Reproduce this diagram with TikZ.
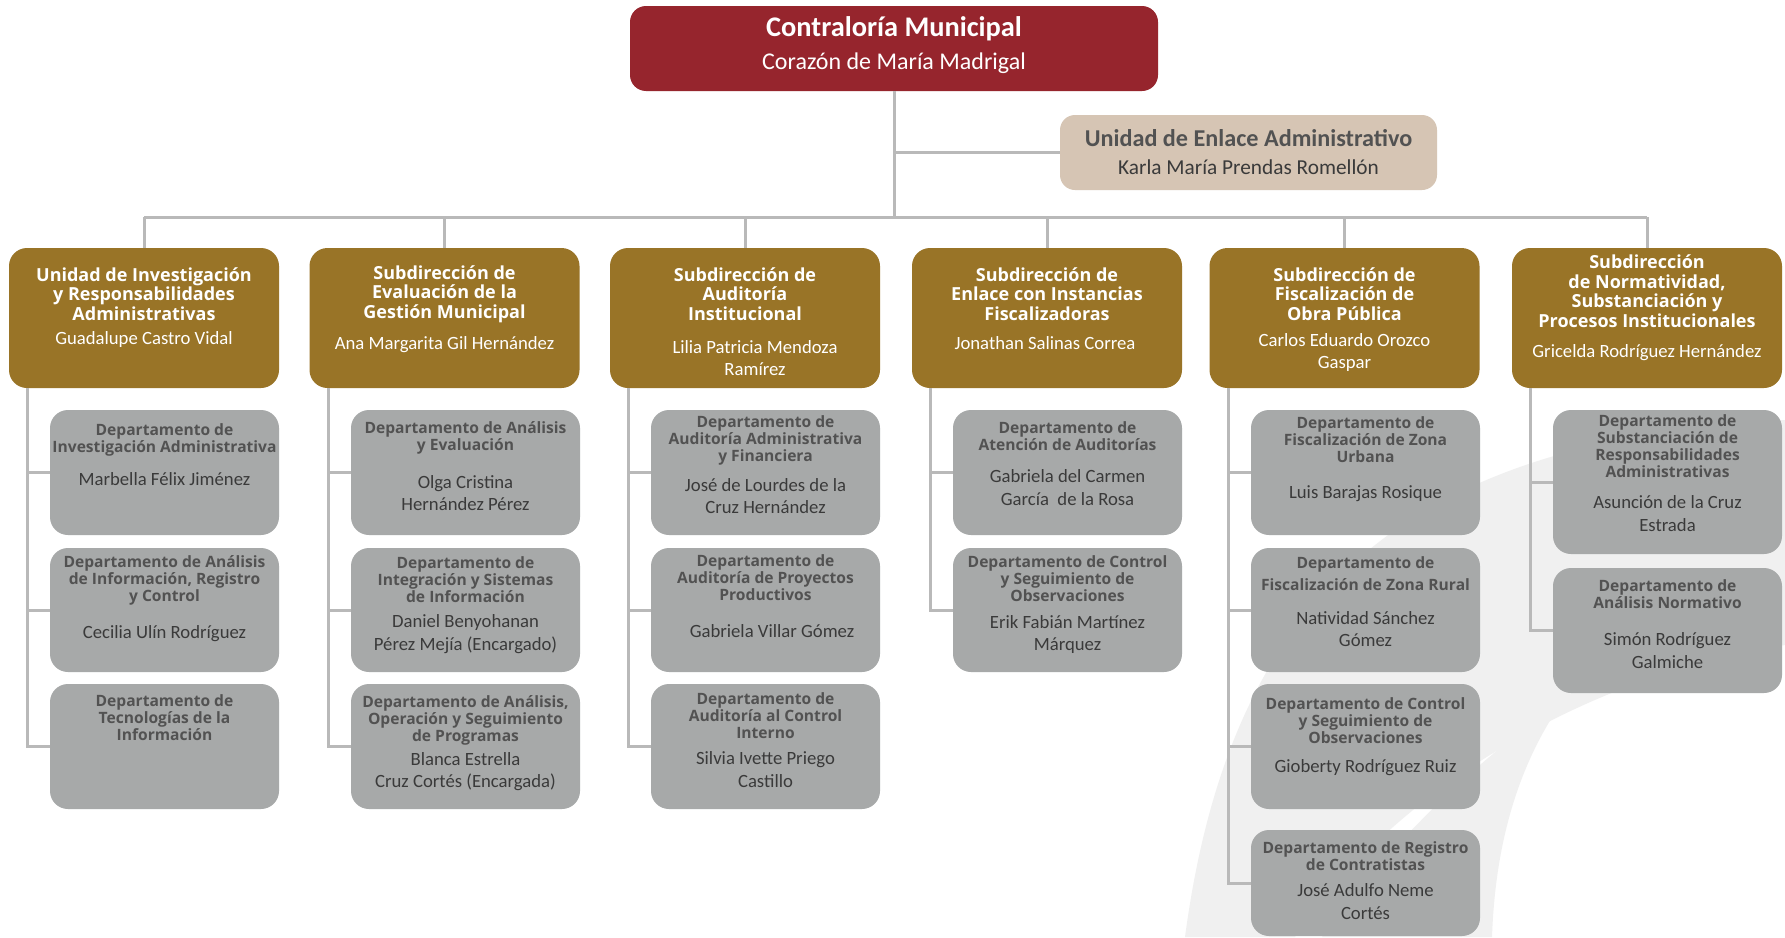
\documentclass[tikz,border=0pt]{standalone}
\usepackage{fontspec}
\setmainfont{Carlito}
\newfontfamily\hfont{Open Sans}
\definecolor{redc}{RGB}{150,37,45}
\definecolor{goldc}{RGB}{153,116,39}
\definecolor{beigec}{RGB}{214,197,180}
\definecolor{grayc}{RGB}{167,169,169}
\definecolor{dtitlec}{RGB}{82,82,82}
\definecolor{dnamec}{RGB}{58,58,58}
\definecolor{linec}{RGB}{185,185,185}
\definecolor{wmc}{RGB}{240,240,240}
\begin{document}
\begin{tikzpicture}[x=1pt,y=-1pt,
  conn/.style={draw=linec, line width=3pt},
  topbox/.style={fill=redc, rounded corners=16pt, minimum width=528pt, minimum height=85pt, inner sep=0pt},
  enlbox/.style={fill=beigec, rounded corners=15pt, minimum width=377pt, minimum height=75pt, inner sep=0pt},
  goldbox/.style={fill=goldc, rounded corners=18pt, minimum width=270pt, minimum height=140pt, inner sep=0pt},
  deptbox/.style={fill=grayc, rounded corners=18pt, minimum width=229pt, inner sep=0pt},
  gtitle/.style={text=white, font=\hfont\bfseries\fontsize{18}{19.5}\selectfont, align=center, inner sep=0pt},
  gname/.style={text=white, font=\fontsize{18.7}{22}\selectfont, align=center, inner sep=0pt},
  dtitle/.style={text=dtitlec, font=\hfont\bfseries\fontsize{15.6}{17}\selectfont, align=center, inner sep=0pt},
  dname/.style={text=dnamec, font=\fontsize{18.7}{22.5}\selectfont, align=center, inner sep=0pt}]
\useasboundingbox (0,0) rectangle (1785,937);
\fill[white] (0,0) rectangle (1785,937);
% watermark
\fill[wmc] (1185,937) .. controls (1230,600) and (1400,440) .. (1785,420) -- (1785,645) .. controls (1560,680) and (1380,810) .. (1295,937) -- cycle;
\fill[wmc] (1322,937) .. controls (1392,840) and (1486,752) .. (1562,702) .. controls (1515,770) and (1495,850) .. (1492,937) -- cycle;

% top
\node[topbox] (top) at (894,48.5) {};
\node[text=white, font=\bfseries\fontsize{28.4}{31}\selectfont, inner sep=0pt] (toptitle) at (894,29) {Contraloría Municipal};
\node[text=white, font=\fontsize{24}{27}\selectfont, inner sep=0pt] (topname) at (894,63) {Corazón de María Madrigal};
\node[enlbox] (enl) at (1248.5,152.5) {};
\node[text=dtitlec, font=\bfseries\fontsize{24.2}{27}\selectfont, inner sep=0pt] (enltitle) at (1248.5,138) {Unidad de Enlace Administrativo};
\node[text=dnamec, font=\fontsize{21.3}{25}\selectfont, inner sep=0pt] (enlname) at (1248.5,167) {Karla María Prendas Romellón};

% gold boxes
\node[goldbox] (g1) at (144,318) {};
\node[goldbox] (g2) at (444.5,318) {};
\node[goldbox] (g3) at (745,318) {};
\node[goldbox] (g4) at (1047,318) {};
\node[goldbox] (g5) at (1344.5,318) {};
\node[goldbox] (g6) at (1647,318) {};
\node[gtitle] (gt1) at (144,294) {Unidad de Investigación\\y Responsabilidades\\Administrativas};
\node[gname] (gn1) at (144,340) {Guadalupe Castro Vidal};
\node[gtitle] (gt2) at (444.5,294) {Subdirección de\\Evaluación de la\\Gestión Municipal};
\node[gname] (gn2) at (444.5,345) {Ana Margarita Gil Hernández};
\node[gtitle] (gt3) at (745,294) {Subdirección de\\Auditoría\\Institucional};
\node[gname] (gn3) at (755,358) {Lilia Patricia Mendoza\\Ramírez};
\node[gtitle] (gt4) at (1047,294) {Subdirección de\\Enlace con Instancias\\Fiscalizadoras};
\node[gname] (gn4) at (1045,343) {Jonathan Salinas Correa};
\node[gtitle] (gt5) at (1344.5,294) {Subdirección de\\Fiscalización de\\Obra Pública};
\node[gname] (gn5) at (1344.5,352.5) {Carlos Eduardo Orozco\\Gaspar};
\node[gtitle] (gt6) at (1647,291) {Subdirección\\de Normatividad,\\Substanciación y\\Procesos Institucionales};
\node[gname] (gn6) at (1647,353) {Gricelda Rodríguez Hernández};

% column 1
\node[deptbox, minimum height=125pt] (d11) at (164.5,472.5) {};
\node[deptbox, minimum height=124pt] (d12) at (164.5,610) {};
\node[deptbox, minimum height=125pt] (d13) at (164.5,746.5) {};
\node[dtitle] (dt11) at (164.5,439.5) {Departamento de\\Investigación Administrativa};
\node[dname] (dn11) at (164.5,479) {Marbella Félix Jiménez};
\node[dtitle] (dt12) at (164.5,580.5) {Departamento de Análisis\\de Información, Registro\\y Control};
\node[dname] (dn12) at (164.5,634) {Cecilia Ulín Rodríguez};
\node[dtitle] (dt13) at (164.5,718) {Departamento de\\Tecnologías de la\\Información};

% column 2
\node[deptbox, minimum height=125pt] (d21) at (465.5,472.5) {};
\node[deptbox, minimum height=124pt] (d22) at (465.5,610) {};
\node[deptbox, minimum height=125pt] (d23) at (465.5,746.5) {};
\node[dtitle] (dt21) at (465.5,437.5) {Departamento de Análisis\\y Evaluación};
\node[dname] (dn21) at (465.5,493) {Olga Cristina\\Hernández Pérez};
\node[dtitle] (dt22) at (465.5,579.5) {Departamento de\\Integración y Sistemas\\de Información};
\node[dname] (dn22) at (465.5,634) {Daniel Benyohanan\\Pérez Mejía (Encargado)};
\node[dtitle] (dt23) at (465.5,720.5) {Departamento de Análisis,\\Operación y Seguimiento\\de Programas};
\node[dname] (dn23) at (465.5,771.5) {Blanca Estrella\\Cruz Cortés (Encargada)};

% column 3
\node[deptbox, minimum height=125pt] (d31) at (765.5,472.5) {};
\node[deptbox, minimum height=124pt] (d32) at (765.5,610) {};
\node[deptbox, minimum height=125pt] (d33) at (765.5,746.5) {};
\node[dtitle] (dt31) at (765.5,440.5) {Departamento de\\Auditoría Administrativa\\y Financiera};
\node[dname] (dn31) at (765.5,496) {José de Lourdes de la\\Cruz Hernández};
\node[dtitle] (dt32) at (765.5,578) {Departamento de\\Auditoría de Proyectos\\Productivos};
\node[dname] (dn32) at (772,631) {Gabriela Villar Gómez};
\node[dtitle] (dt33) at (765.5,716) {Departamento de\\Auditoría al Control\\Interno};
\node[dname] (dn33) at (765.5,769.5) {Silvia Ivette Priego\\Castillo};

% column 4
\node[deptbox, minimum height=125pt] (d41) at (1067.5,472.5) {};
\node[deptbox, minimum height=124pt] (d42) at (1067.5,610) {};
\node[dtitle] (dt41) at (1067.5,436.5) {Departamento de\\Atención de Auditorías};
\node[dname] (dn41) at (1067.5,487.5) {Gabriela del Carmen\\García\ \ de la Rosa};
\node[dtitle] (dt42) at (1067.5,578.5) {Departamento de Control\\y Seguimiento de\\Observaciones};
\node[dname] (dn42) at (1067.5,634.5) {Erik Fabián Martínez\\Márquez};

% column 5
\node[deptbox, minimum height=125pt] (d51) at (1365.5,472.5) {};
\node[deptbox, minimum height=124pt] (d52) at (1365.5,610) {};
\node[deptbox, minimum height=125pt] (d53) at (1365.5,746.5) {};
\node[deptbox, minimum height=106pt] (d54) at (1365.5,883) {};
\node[dtitle] (dt51) at (1365.5,440) {Departamento de\\Fiscalización de Zona\\Urbana};
\node[dname] (dn51) at (1365.5,494) {Luis Barajas Rosique};
\node[dtitle] (dt52) at (1365.5,574) {Departamento de\\[5pt]Fiscalización de Zona Rural};
\node[dname] (dn52) at (1365.5,629) {Natividad Sánchez\\Gómez};
\node[dtitle] (dt53) at (1365.5,720.5) {Departamento de Control\\y Seguimiento de\\Observaciones};
\node[dname] (dn53) at (1365.5,768) {Gioberty Rodríguez Ruiz};
\node[dtitle] (dt54) at (1365.5,856.5) {Departamento de Registro\\de Contratistas};
\node[dname] (dn54) at (1365.5,901.5) {José Adulfo Neme\\Cortés};

% column 6
\node[deptbox, minimum height=144pt] (d61) at (1667.5,482) {};
\node[deptbox, minimum height=125pt] (d62) at (1667.5,630.5) {};
\node[dtitle] (dt61) at (1667.5,446.5) {Departamento de\\Substanciación de\\Responsabilidades\\Administrativas};
\node[dname] (dn61) at (1667.5,513.5) {Asunción de la Cruz\\Estrada};
\node[dtitle] (dt62) at (1667.5,594.5) {Departamento de\\Análisis Normativo};
\node[dname] (dn62) at (1667.5,650.5) {Simón Rodríguez\\Galmiche};

% connectors
\coordinate (bus) at (0,217);
\draw[conn] (top.south) -- (top.south |- bus);
\draw[conn] (top.south |- enl.west) -- (enl.west);
\draw[conn] (g1.north |- bus) -- (g6.north |- bus);
\foreach \i in {1,...,6} {\draw[conn] (g\i.north) -- (g\i.north |- bus);}
\draw[conn] ([xshift=19pt]g1.south west) |- (d13.west);
\draw[conn] ([xshift=19pt]g1.south west |- d11.west) -- (d11.west);
\draw[conn] ([xshift=19pt]g1.south west |- d12.west) -- (d12.west);
\draw[conn] ([xshift=19pt]g2.south west) |- (d23.west);
\draw[conn] ([xshift=19pt]g2.south west |- d21.west) -- (d21.west);
\draw[conn] ([xshift=19pt]g2.south west |- d22.west) -- (d22.west);
\draw[conn] ([xshift=19pt]g3.south west) |- (d33.west);
\draw[conn] ([xshift=19pt]g3.south west |- d31.west) -- (d31.west);
\draw[conn] ([xshift=19pt]g3.south west |- d32.west) -- (d32.west);
\draw[conn] ([xshift=19pt]g4.south west) |- (d42.west);
\draw[conn] ([xshift=19pt]g4.south west |- d41.west) -- (d41.west);
\draw[conn] ([xshift=19pt]g5.south west) |- (d54.west);
\draw[conn] ([xshift=19pt]g5.south west |- d51.west) -- (d51.west);
\draw[conn] ([xshift=19pt]g5.south west |- d52.west) -- (d52.west);
\draw[conn] ([xshift=19pt]g5.south west |- d53.west) -- (d53.west);
\draw[conn] ([xshift=19pt]g6.south west) |- (d62.west);
\draw[conn] ([xshift=19pt]g6.south west |- d61.west) -- (d61.west);
\end{tikzpicture}
\end{document}
